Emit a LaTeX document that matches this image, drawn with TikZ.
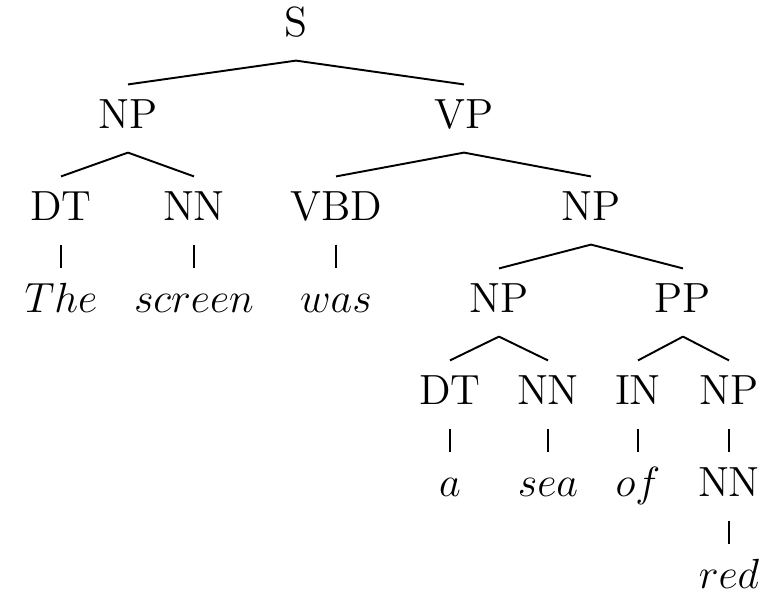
\documentclass[tikz,border=0pt]{standalone}
\usepackage{tikz}
\tikzset{
  cat/.style={anchor=base, inner xsep=2pt, inner ysep=4pt, text height=8.2pt, text depth=2.8pt, font=\fontsize{12}{14}\selectfont},
  word/.style={cat},
  branch/.style={line width=0.55pt}
}

\begin{document}
\begin{tikzpicture}
\useasboundingbox (0,0) rectangle (7.78,-5.91);
% phrase levels
\node[cat] (s) at (2.96,-0.36) {S};
\node[cat] (np) at (1.28,-1.28) {NP};
\node[cat] (vp) at (4.64,-1.28) {VP};
\node[cat] (dt) at (0.61,-2.20) {DT};
\node[cat] (nn) at (1.94,-2.20) {NN};
\node[cat] (vbd) at (3.36,-2.20) {VBD};
\node[cat] (npobj) at (5.91,-2.20) {NP};
\node[cat] (nphead) at (4.99,-3.12) {NP};
\node[cat] (pp) at (6.83,-3.12) {PP};
\node[cat] (dta) at (4.50,-4.04) {DT};
\node[cat] (nnsea) at (5.48,-4.04) {NN};
\node[cat] (in) at (6.38,-4.04) {IN};
\node[cat] (npred) at (7.29,-4.04) {NP};
\node[cat] (nnred) at (7.29,-4.96) {NN};
% words
\node[word] (the) at (0.61,-3.12) {$The$};
\node[word] (screen) at (1.94,-3.12) {$screen$};
\node[word] (was) at (3.36,-3.12) {$was$};
\node[word] (a) at (4.50,-4.96) {$a$};
\node[word] (sea) at (5.48,-4.96) {$sea$};
\node[word] (of) at (6.38,-4.96) {$of$};
\node[word] (red) at (7.29,-5.88) {$red$};
% branches
\foreach \p/\c in {s/np, s/vp, np/dt, np/nn, vp/vbd, vp/npobj,
    npobj/nphead, npobj/pp, nphead/dta, nphead/nnsea, pp/in, pp/npred,
    npred/nnred, dt/the, nn/screen, vbd/was, dta/a, nnsea/sea, in/of, nnred/red}
  \draw[branch] (\p.south) -- (\c.north);
\end{tikzpicture}
\end{document}
